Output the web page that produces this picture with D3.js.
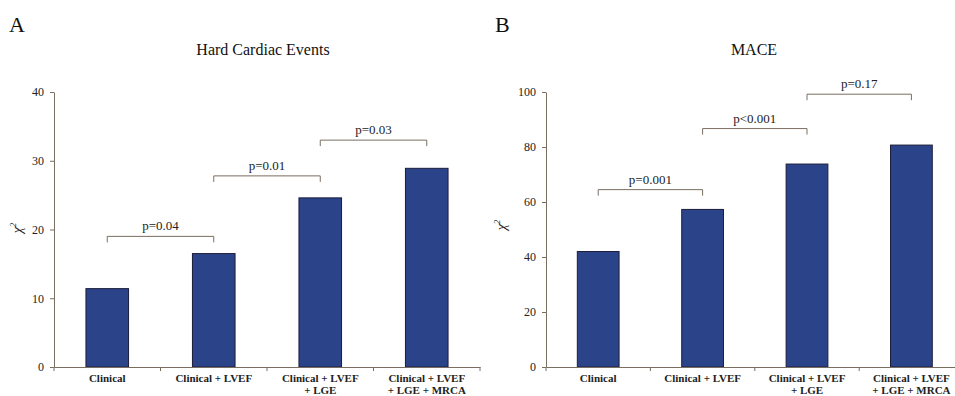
<!DOCTYPE html>
<html>
<head>
<meta charset="utf-8">
<script src="https://cdn.jsdelivr.net/npm/d3@7"></script>
<style>
  body { margin: 0; background: #fff; }
  svg text { font-family: "Liberation Serif", "Times New Roman", serif; }
</style>
</head>
<body>
<div id="vis"></div>
<script>
// categories (each label split into lines)
const categories = ["Clinical", "Clinical + LVEF", "Clinical + LVEF + LGE", "Clinical + LVEF + LGE + MRCA"];
const categoryLines = [["Clinical"], ["Clinical + LVEF"], ["Clinical + LVEF", "+ LGE"], ["Clinical + LVEF", "+ LGE + MRCA"]];

// panel A: hard cardiac events
const hardValues = [11.4, 16.5, 24.6, 28.9];
const hardTicks = [0, 10, 20, 30, 40];
const hardPairs = [
  { from: 0, to: 1, y: 19.0, label: "p=0.04" },
  { from: 1, to: 2, y: 27.8, label: "p=0.01" },
  { from: 2, to: 3, y: 33.0, label: "p=0.03" }
];

// panel B: MACE
const maceValues = [42.0, 57.3, 73.8, 80.7];
const maceTicks = [0, 20, 40, 60, 80, 100];
const macePairs = [
  { from: 0, to: 1, y: 64.5, label: "p=0.001" },
  { from: 1, to: 2, y: 86.7, label: "p<0.001" },
  { from: 2, to: 3, y: 99.2, label: "p=0.17" }
];

const W = 955, H = 396;
const axisColor = "#7a6e60";
const barFill = "#2b4489";
const barStroke = "#1c1c3c";
const serif = "Liberation Serif, Times New Roman, serif";

const svg = d3.select("#vis").append("svg").attr("width", W).attr("height", H)
  .style("display", "block");

function drawPanel(opt) {
  const g = svg.append("g");

  const x = d3.scaleBand()
    .domain(categories)
    .range([opt.left, opt.right])
    .paddingInner(0.6)
    .paddingOuter(0.3);

  const y = d3.scaleLinear()
    .domain([0, opt.max])
    .range([opt.bottom, opt.top]);

  // panel letter
  g.append("text")
    .attr("x", opt.letterX).attr("y", 32)
    .attr("font-size", 22).attr("fill", "#111")
    .text(opt.letter);

  // title
  g.append("text")
    .attr("x", opt.titleX).attr("y", 55)
    .attr("text-anchor", "middle")
    .attr("font-size", 16).attr("fill", "#111")
    .text(opt.title);

  // bars
  g.selectAll("rect.bar")
    .data(opt.values)
    .enter().append("rect")
    .attr("class", "bar")
    .attr("x", (d, i) => x(categories[i]))
    .attr("y", d => y(d))
    .attr("width", x.bandwidth())
    .attr("height", d => y(0) - y(d))
    .attr("fill", barFill)
    .attr("stroke", barStroke)
    .attr("stroke-width", 1);

  // y axis
  const yAxis = g.append("g")
    .attr("transform", `translate(${opt.left},0)`)
    .call(d3.axisLeft(y).tickValues(opt.ticks).tickSize(4).tickSizeOuter(0).tickPadding(6));
  yAxis.attr("font-family", serif);
  yAxis.select(".domain").attr("stroke", axisColor);
  yAxis.selectAll(".tick line").attr("stroke", axisColor);
  yAxis.selectAll(".tick text")
    .attr("font-size", 12).attr("fill", "#222");

  // x axis (labels in band centers, ticks at band boundaries)
  const xAxis = g.append("g")
    .attr("transform", `translate(0,${opt.bottom})`)
    .call(d3.axisBottom(x).tickSize(0).tickSizeOuter(0).tickFormat(""));
  xAxis.select(".domain").attr("stroke", axisColor);
  const bounds = d3.range(categories.length + 1).map(i => opt.left + i * x.step());
  xAxis.selectAll("line.sep")
    .data(bounds)
    .enter().append("line")
    .attr("class", "sep")
    .attr("x1", d => d).attr("x2", d => d)
    .attr("y1", 0).attr("y2", 4)
    .attr("stroke", axisColor);

  categories.forEach((c, i) => {
    const t = g.append("text")
      .attr("text-anchor", "middle")
      .attr("font-size", 11)
      .attr("font-weight", "bold")
      .attr("fill", "#222")
      .attr("transform", `translate(${x(c) + x.bandwidth() / 2},${opt.bottom + 15})`);
    categoryLines[i].forEach((line, k) => {
      t.append("tspan").attr("x", 0).attr("dy", k === 0 ? 0 : 12).text(line);
    });
  });

  // y label chi^2
  const yl = g.append("text")
    .attr("transform", `translate(${opt.yLabelX},${opt.yLabelY}) rotate(-90)`)
    .attr("text-anchor", "middle")
    .attr("font-size", 14).attr("font-style", "italic").attr("fill", "#222");
  yl.append("tspan").text("χ");
  yl.append("tspan").attr("font-size", 9).attr("dy", -6).text("2");

  // significance brackets
  const cx = i => x(categories[i]) + x.bandwidth() / 2;
  opt.pairs.forEach(p => {
    const yy = y(p.y);
    g.append("path")
      .attr("d", `M${cx(p.from)},${yy + 6}V${yy}H${cx(p.to)}V${yy + 6}`)
      .attr("fill", "none")
      .attr("stroke", axisColor)
      .attr("stroke-width", 1);
    g.append("text")
      .attr("x", (cx(p.from) + cx(p.to)) / 2)
      .attr("y", yy - 6)
      .attr("text-anchor", "middle")
      .attr("font-size", 13).attr("fill", "#222")
      .text(p.label);
  });
}

drawPanel({
  letter: "A", letterX: 9, title: "Hard Cardiac Events", titleX: 263,
  left: 54, right: 480, top: 92, bottom: 367, max: 40,
  values: hardValues, ticks: hardTicks, pairs: hardPairs,
  yLabelX: 22, yLabelY: 228
});

drawPanel({
  letter: "B", letterX: 495, title: "MACE", titleX: 754,
  left: 546, right: 963.6, top: 92, bottom: 367, max: 100,
  values: maceValues, ticks: maceTicks, pairs: macePairs,
  yLabelX: 506, yLabelY: 225
});
</script>
</body>
</html>
